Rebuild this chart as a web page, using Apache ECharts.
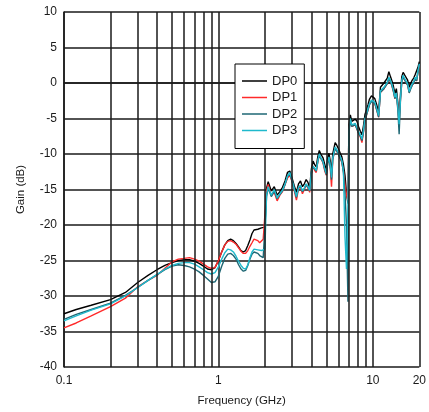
<!DOCTYPE html>
<html>
<head>
<meta charset="utf-8">
<script src="https://cdn.jsdelivr.net/npm/echarts@6/dist/echarts.min.js"></script>
<style>
  html, body { margin: 0; padding: 0; background: #fff; }
  #chart { width: 429px; height: 412px; }
</style>
</head>
<body>
<div id="chart"></div>
<script>
// frequency points in GHz
var freq = [
    0.1, 0.12, 0.15, 0.2, 0.25, 0.3, 0.35, 0.4, 0.45, 0.5,
    0.55, 0.6, 0.65, 0.7, 0.75, 0.8, 0.85, 0.9, 0.95, 1.0,
    1.05, 1.1, 1.15, 1.2, 1.25, 1.3, 1.35, 1.4, 1.45, 1.5,
    1.55, 1.6, 1.65, 1.7, 1.75, 1.8, 1.85, 1.9, 1.95, 2.0,
    2.05, 2.1, 2.2, 2.3, 2.4, 2.5, 2.6, 2.7, 2.8, 2.9,
    3.0, 3.1, 3.2, 3.3, 3.4, 3.5, 3.6, 3.7, 3.8, 3.9,
    4.0, 4.1, 4.2, 4.3, 4.4, 4.5, 4.6, 4.75, 4.9, 5.0,
    5.1, 5.2, 5.3, 5.4, 5.5, 5.7, 5.85, 6.0, 6.15, 6.3,
    6.45, 6.6, 6.75, 6.9, 7.0, 7.15, 7.3, 7.5, 7.7, 7.9,
    8.1, 8.3, 8.5, 8.7, 8.9, 9.1, 9.3, 9.5, 9.8, 10,
    10.3, 10.6, 10.9, 11.2, 11.5, 11.8, 12.1, 12.4, 12.7, 13.0,
    13.3, 13.6, 13.9, 14.2, 14.5, 14.8, 15.1, 15.4, 15.7, 16.0,
    16.4, 16.8, 17.2, 17.6, 18.0, 18.4, 18.8, 19.2, 19.6, 20
];

var dp0 = [
    -32.5, -31.9, -31.3, -30.5, -29.5, -28.1, -27.1, -26.3, -25.7, -25.3,
    -25.0, -24.9, -24.9, -25.1, -25.4, -25.8, -26.2, -26.3, -26.0, -25.0,
    -23.8, -22.8, -22.2, -22.0, -22.2, -22.6, -23.1, -23.6, -23.8, -23.6,
    -22.9, -22.1, -21.2, -20.7, -20.6, -20.6, -20.5, -20.4, -20.3, -20.3,
    -14.8, -13.9, -15.2, -14.6, -15.8, -15.3, -14.7, -13.8, -12.6, -12.4,
    -13.4, -14.5, -15.4, -14.2, -13.8, -14.6, -14.2, -13.6, -14.0, -14.8,
    -12.1, -11.0, -11.5, -11.8, -10.4, -9.5, -10.0, -10.5, -11.6, -12.2,
    -10.6, -9.9, -11.0, -12.6, -10.0, -8.4, -8.8, -9.3, -9.9, -10.4,
    -11.5, -13.0, -15.5, -17.0, -5.9, -4.5, -5.4, -5.6, -5.1, -5.4,
    -6.2, -6.8, -7.3, -6.0, -4.4, -3.8, -3.1, -2.3, -1.8, -1.6,
    -2.2, -3.1, -4.1, -0.6, -0.4, 0.0, -0.2, 0.7, 1.6, 0.9,
    0.3, -0.5, -1.5, -0.8, -2.6, -4.8, -1.6, 0.9, 1.5, 1.2,
    1.3, 0.4, -0.6, 0.0, 0.4, 0.7, 1.2, 1.0, 2.2, 3.0
];

var dp1 = [
    -34.5, -33.8, -32.8, -31.5, -30.3, -28.7, -27.8, -27.1, -26.1, -25.2,
    -24.8, -24.7, -24.6, -24.8, -25.1, -25.5, -25.9, -26.1, -26.0, -25.0,
    -23.8, -22.8, -22.3, -22.2, -22.4, -22.7, -23.2, -23.7, -24.0, -24.0,
    -23.6, -23.0, -22.5, -22.0, -22.0, -22.2, -22.5, -22.4, -22.0, -22.0,
    -15.2, -14.3, -15.9, -15.4, -16.6, -15.8, -15.3, -14.3, -13.4, -13.0,
    -13.9, -15.2, -16.5, -14.9, -14.6, -15.6, -15.0, -14.3, -14.8, -15.4,
    -12.8, -11.7, -12.3, -12.6, -11.0, -10.1, -10.6, -11.2, -12.5, -13.0,
    -11.3, -10.6, -12.0, -14.6, -10.8, -9.1, -9.6, -10.1, -10.6, -11.2,
    -12.4, -14.3, -15.7, -16.5, -6.6, -5.2, -6.1, -6.3, -5.9, -6.1,
    -7.1, -7.6, -8.4, -6.9, -5.2, -4.5, -3.8, -3.0, -2.5, -2.4,
    -2.9, -3.8, -4.8, -1.3, -1.1, -0.8, -0.9, -0.1, 0.6, 0.2,
    -0.4, -1.2, -2.2, -1.5, -3.3, -5.6, -2.3, 0.2, 0.9, 0.5,
    0.6, -0.3, -1.3, -0.7, -0.3, 0.0, 0.6, 0.3, 1.5, 2.5
];

var dp2 = [
    -33.3, -32.6, -31.9, -31.0, -29.9, -28.8, -27.8, -27.0, -26.3, -25.8,
    -25.6, -25.7, -25.9, -26.2, -26.6, -27.1, -27.6, -28.1, -28.0, -27.2,
    -25.8, -24.7, -24.1, -24.0, -24.3, -24.8, -25.6, -26.2, -26.5, -26.4,
    -25.7, -24.8, -24.1, -23.8, -23.8, -24.0, -24.3, -24.5, -24.6, -24.6,
    -16.0, -14.8, -16.0, -15.2, -16.3, -15.7, -15.2, -14.3, -13.2, -12.8,
    -13.8, -15.0, -16.1, -14.8, -14.5, -15.3, -14.9, -14.3, -14.7, -15.2,
    -12.7, -11.8, -12.1, -12.4, -11.1, -10.2, -10.6, -11.1, -12.3, -12.9,
    -11.3, -10.6, -11.8, -13.6, -10.8, -9.2, -9.6, -10.1, -10.6, -11.1,
    -12.6, -15.5, -20.0, -30.8, -7.0, -5.2, -6.1, -6.3, -5.9, -6.1,
    -7.1, -7.5, -8.1, -6.8, -5.2, -4.5, -3.8, -3.1, -2.6, -2.4,
    -2.9, -3.8, -4.8, -1.3, -1.1, -0.8, -0.9, -0.1, 0.6, 0.2,
    -0.4, -1.2, -2.2, -1.6, -3.6, -7.2, -2.4, 0.2, 0.9, 0.5,
    0.6, -0.3, -1.4, -0.8, -0.3, 0.0, 0.6, 0.3, 1.5, 2.6
];

var dp3 = [
    -33.5, -32.8, -32.0, -31.1, -30.0, -28.8, -27.8, -27.0, -26.2, -25.7,
    -25.4, -25.3, -25.3, -25.5, -25.9, -26.3, -26.7, -26.9, -26.7, -25.9,
    -24.8, -23.9, -23.4, -23.5, -23.8, -24.4, -25.1, -25.7, -26.1, -26.2,
    -25.6, -24.6, -23.8, -23.4, -23.3, -23.5, -23.6, -23.6, -23.4, -23.4,
    -15.8, -14.6, -15.8, -15.0, -16.2, -15.6, -15.1, -14.2, -13.1, -12.6,
    -13.7, -14.9, -16.0, -14.7, -14.4, -15.2, -14.8, -14.2, -14.6, -15.1,
    -12.6, -11.7, -12.0, -12.3, -11.0, -10.0, -10.5, -11.0, -12.2, -12.8,
    -11.1, -10.4, -11.6, -13.3, -10.6, -9.0, -9.4, -9.9, -10.4, -10.9,
    -12.4, -21.6, -26.2, -17.0, -6.8, -5.0, -5.9, -6.1, -5.7, -5.9,
    -6.9, -7.3, -7.9, -6.6, -5.0, -4.3, -3.6, -2.9, -2.4, -2.2,
    -2.7, -3.6, -4.6, -1.1, -0.9, -0.6, -0.7, 0.1, 0.8, 0.4,
    -0.2, -1.0, -2.0, -1.4, -3.2, -5.8, -2.2, 0.4, 1.1, 0.7,
    0.8, -0.1, -1.2, -0.6, -0.1, 0.2, 0.8, 0.5, 1.7, 2.7
];

var names = ['DP0', 'DP1', 'DP2', 'DP3'];
var colors = ['#000000', '#ff2a2a', '#1e6774', '#1fb9cc'];
var values = [dp0, dp1, dp2, dp3];

// minor vertical grid lines of the log axis
var minorFreqs = [0.2, 0.3, 0.4, 0.5, 0.6, 0.7, 0.8, 0.9, 2, 3, 4, 5, 6, 7, 8, 9];

var gridColor = '#1a1a1a';
var textColor = '#1a1a1a';

function pairs(ys) {
    var out = [];
    for (var i = 0; i < freq.length; i++) {
        out.push([freq[i], ys[i]]);
    }
    return out;
}

var series = [{
    name: 'grid',
    type: 'line',
    data: [],
    silent: true,
    z: 1,
    markLine: {
        silent: true,
        symbol: 'none',
        animation: false,
        label: { show: false },
        lineStyle: { color: gridColor, width: 1.5, type: 'solid' },
        data: minorFreqs.map(function (f) { return { xAxis: f }; })
    }
}];
for (var i = 0; i < names.length; i++) {
    series.push({
        name: names[i],
        type: 'line',
        data: pairs(values[i]),
        symbol: 'none',
        showSymbol: false,
        lineStyle: { color: colors[i], width: 1.4 },
        itemStyle: { color: colors[i] },
        animation: false
    });
}

var chart = echarts.init(document.getElementById('chart'));
chart.setOption({
    backgroundColor: '#fff',
    animation: false,
    grid: { left: 64, right: 9, top: 12, bottom: 44 },
    legend: {
        data: names,
        z: 20,
        orient: 'vertical',
        left: 235,
        top: 64,
        backgroundColor: '#fff',
        borderColor: '#000',
        borderWidth: 1,
        borderRadius: 0,
        padding: [10, 7, 11, 7],
        icon: 'rect',
        itemWidth: 25,
        itemHeight: 1.5,
        itemGap: 2.5,
        textStyle: { fontFamily: 'Liberation Sans', fontSize: 13, color: textColor, lineHeight: 14 }
    },
    xAxis: {
        type: 'log',
        logBase: 10,
        min: 0.1,
        max: 20,
        name: 'Frequency (GHz)',
        nameLocation: 'middle',
        nameGap: 28,
        nameTextStyle: { fontFamily: 'Liberation Sans', fontSize: 11.5, color: textColor },
        axisLine: { show: true, lineStyle: { color: gridColor, width: 1.5 } },
        axisTick: { show: false },
        axisLabel: {
            fontFamily: 'Liberation Sans', fontSize: 12, color: textColor, margin: 8,
            showMaxLabel: true,
            formatter: function (v) { return String(+v.toPrecision(3)); }
        },
        splitLine: { show: true, lineStyle: { color: gridColor, width: 1.5 } }
    },
    yAxis: {
        type: 'value',
        min: -40,
        max: 10,
        interval: 5,
        name: 'Gain (dB)',
        nameLocation: 'middle',
        nameGap: 37,
        nameTextStyle: { fontFamily: 'Liberation Sans', fontSize: 11.5, color: textColor },
        axisLine: { show: true, lineStyle: { color: gridColor, width: 1.5 } },
        axisTick: { show: false },
        axisLabel: { fontFamily: 'Liberation Sans', fontSize: 12, color: textColor, margin: 7 },
        splitLine: { show: true, lineStyle: { color: gridColor, width: 1.5 } }
    },
    series: series
});
</script>
</body>
</html>
